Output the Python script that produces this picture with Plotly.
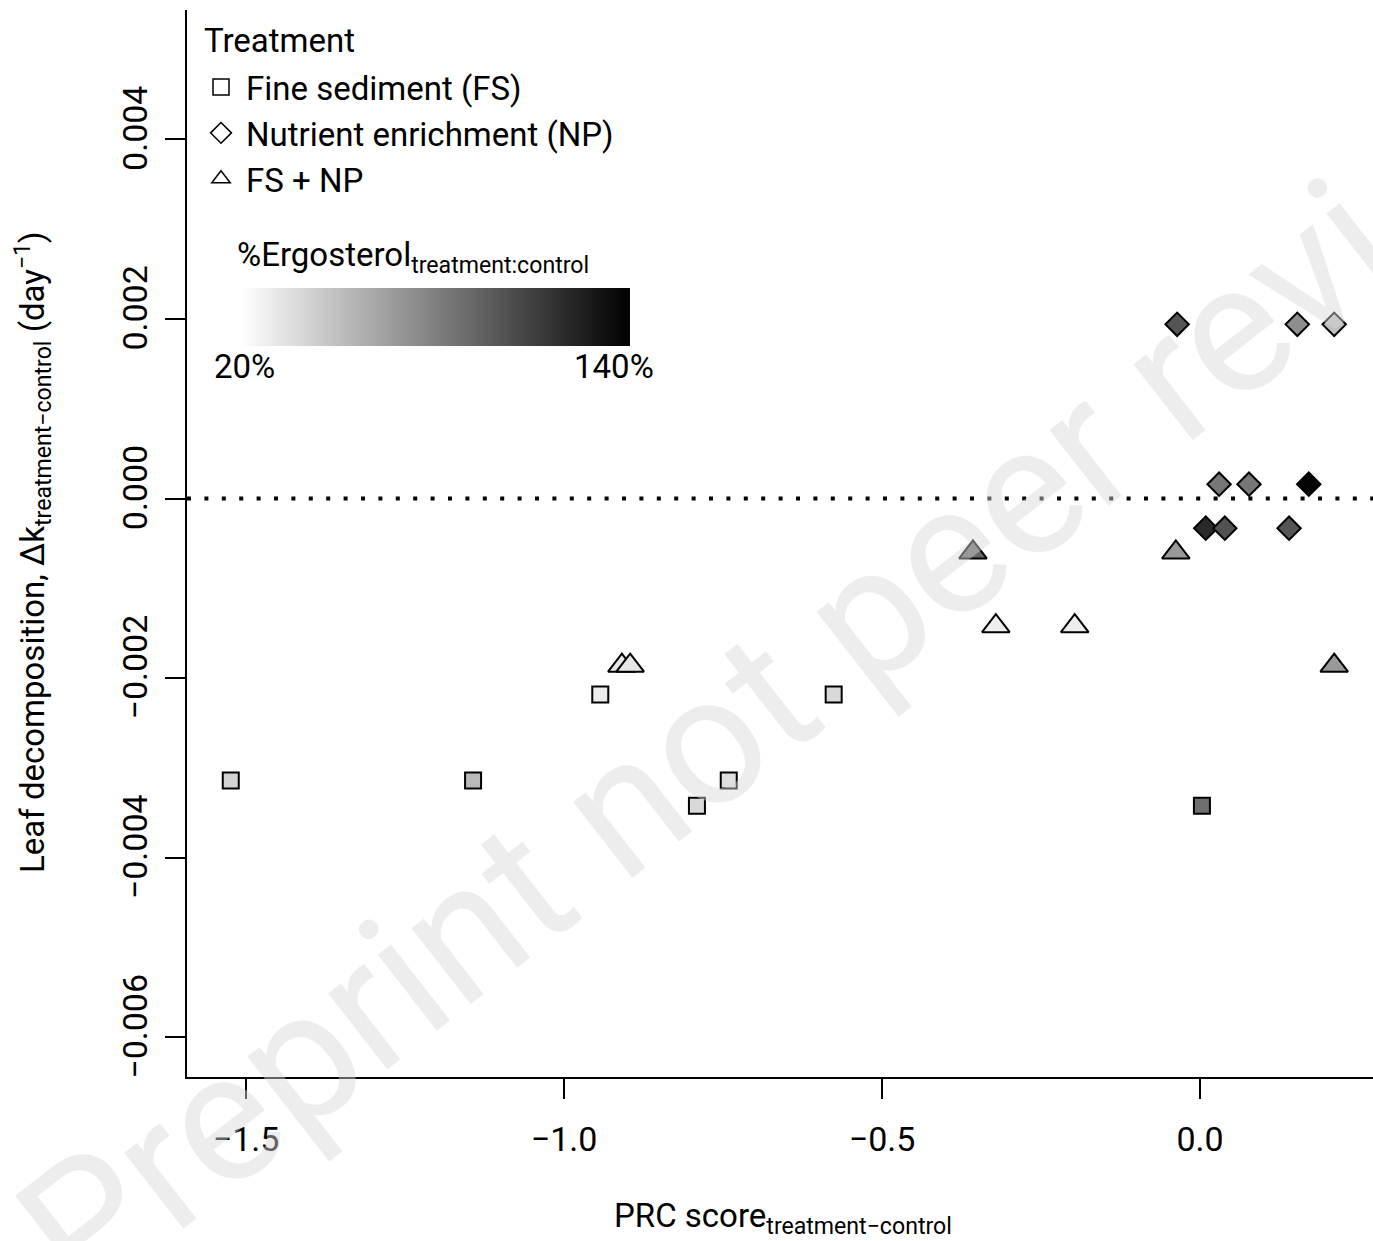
import plotly.graph_objects as go

# ---------------- data ----------------
fs_x = [-1.524, -1.143, -0.943, -0.791, -0.741, -0.576, 0.003]
fs_y = [-0.00314, -0.00314, -0.00218, -0.00342, -0.00314, -0.00218, -0.00342]
fs_ergo = [41, 53, 29, 38, 35, 38, 88]

np_x = [-0.036, 0.153, 0.211, 0.030, 0.077, 0.171, 0.009, 0.039, 0.140]
np_y = [0.00194, 0.00194, 0.00194, 0.00016, 0.00016, 0.00016, -0.00033, -0.00033, -0.00033]
np_ergo = [100, 73, 50, 84, 84, 138, 120, 102, 100]

fsnp_x = [-0.357, -0.038, -0.321, -0.197, -0.909, -0.896, 0.211]
fsnp_y = [-0.00060, -0.00060, -0.00142, -0.00142, -0.00186, -0.00186, -0.00186]
fsnp_ergo = [92, 68, 28, 28, 32, 32, 68]

x_ticks = [-1.5, -1.0, -0.5, 0.0]
y_ticks = [-0.006, -0.004, -0.002, 0.000, 0.002, 0.004]
ergo_min, ergo_max = 20, 140

treatments = ["Fine sediment (FS)", "Nutrient enrichment (NP)", "FS + NP"]
symbols = ["square", "diamond", "triangle-up"]

FONT = "Roboto"
gray_scale = [[0, "white"], [1, "black"]]

# pixel helpers for layout placement (plot area: x 187..1373, y 10..1077)
def px(xp):
    return (xp - 187) / 1186

def py(yp):
    return (1077 - yp) / 1067

fig = go.Figure()

series = [(fs_x, fs_y, fs_ergo, 16), (np_x, np_y, np_ergo, 18), (fsnp_x, fsnp_y, fsnp_ergo, 24)]
for i, ((xs, ys, cs, sz), sym) in enumerate(zip(series, symbols)):
    marker = dict(symbol=sym, size=sz, color=cs, colorscale=gray_scale,
                  cmin=ergo_min, cmax=ergo_max, line=dict(color="black", width=2),
                  showscale=(i == 0))
    if i == 0:
        marker["colorbar"] = dict(orientation="h", thickness=58, thicknessmode="pixels",
                                  len=389, lenmode="pixels",
                                  x=px(241), xanchor="left",
                                  y=py(317), yanchor="middle",
                                  xpad=0, ypad=0, outlinewidth=0,
                                  showticklabels=False, ticks="")
    fig.add_trace(go.Scatter(x=xs, y=ys, mode="markers", marker=marker,
                             showlegend=False, hoverinfo="skip"))

# legend entries (open symbols)
for name, sym in zip(treatments, symbols):
    fig.add_trace(go.Scatter(x=[None], y=[None], mode="markers", name=name,
                             marker=dict(symbol=sym, size=16, color="white",
                                         line=dict(color="black", width=1.5))))

# dotted zero line
fig.add_shape(type="line", xref="x domain", yref="y", x0=0, x1=1, y0=0, y1=0,
              line=dict(color="black", width=4, dash="4px,13.4px"))

annotations = [
    dict(text="Treatment", xref="paper", yref="paper", x=px(202), y=py(40),
         xanchor="left", yanchor="middle", showarrow=False,
         font=dict(family=FONT, size=33, color="black")),
    dict(text="PRC score<sub>treatment−control</sub>", xref="paper", yref="paper",
         x=px(783), y=py(1218), xanchor="center", yanchor="middle",
         showarrow=False, font=dict(family=FONT, size=33, color="black")),
    dict(text="Leaf decomposition, Δk<sub>treatment−control</sub> (day<sup>−1</sup>)",
         xref="paper", yref="paper", x=px(33), y=py(552),
         xanchor="center", yanchor="middle", textangle=-90, showarrow=False,
         font=dict(family=FONT, size=33, color="black")),
    dict(text="%Ergosterol<sub>treatment:control</sub>", xref="paper", yref="paper",
         x=px(235), y=py(257), xanchor="left", yanchor="middle",
         showarrow=False, font=dict(family=FONT, size=33, color="black")),
    dict(text=f"{ergo_min}%", xref="paper", yref="paper",
         x=px(244), y=py(366), xanchor="center", yanchor="middle",
         showarrow=False, font=dict(family=FONT, size=33, color="black")),
    dict(text=f"{ergo_max}%", xref="paper", yref="paper",
         x=px(656), y=py(366), xanchor="right", yanchor="middle",
         showarrow=False, font=dict(family=FONT, size=33, color="black")),
    dict(text="Preprint not peer reviewed", xref="paper", yref="paper",
         x=px(878), y=py(606), xanchor="center", yanchor="middle",
         textangle=-38, showarrow=False,
         font=dict(family=FONT, size=182, color="rgba(215,215,215,0.45)")),
]

fig.update_layout(
    width=1373, height=1241,
    margin=dict(l=187, r=0, t=10, b=164),
    paper_bgcolor="white", plot_bgcolor="white",
    font=dict(family=FONT, size=34, color="black"),
    showlegend=True,
    legend=dict(x=px(196), y=py(59), xanchor="left", yanchor="top",
                bgcolor="rgba(0,0,0,0)", font=dict(family=FONT, size=33),
                tracegroupgap=0, itemsizing="trace", itemwidth=40),
    annotations=annotations,
    xaxis=dict(range=[-1.5928, 0.272], tickvals=x_ticks, tickformat=".1f",
               showline=True, linecolor="black", linewidth=2, mirror=False,
               ticks="outside", ticklen=20, tickwidth=2, tickcolor="black",
               showgrid=False, zeroline=False, ticklabelstandoff=11,
               tickfont=dict(family=FONT, size=34, color="black")),
    yaxis=dict(range=[-0.00644, 0.00544], tickvals=y_ticks, tickformat=".3f",
               tickangle=-90, ticklabelshift=-6,
               showline=True, linecolor="black", linewidth=2, mirror=False,
               ticks="outside", ticklen=20, tickwidth=2, tickcolor="black",
               showgrid=False, zeroline=False, ticklabelstandoff=4,
               tickfont=dict(family=FONT, size=34, color="black")),
)

fig.write_html("out.html")
